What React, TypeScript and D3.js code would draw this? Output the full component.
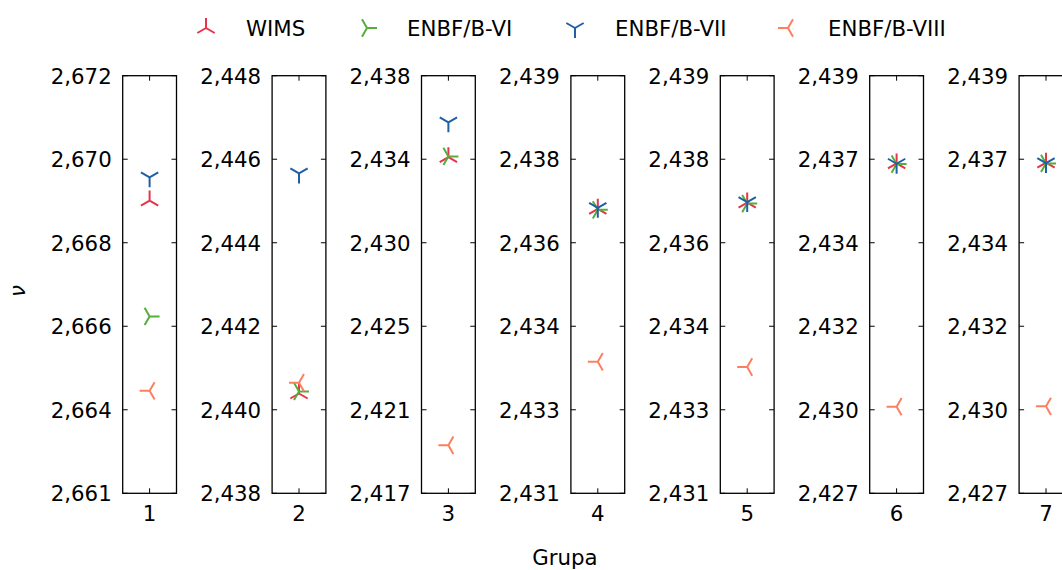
import React from "react";
import * as d3 from "d3";

const groups = [1, 2, 3, 4, 5, 6, 7];
const yMin = [2.6614, 2.438, 2.41705, 2.4312, 2.4312, 2.4272, 2.4272];
const yMax = [2.672, 2.448, 2.438, 2.4392, 2.4392, 2.4392, 2.4392];
const tickLabels = [
  ["2,661", "2,664", "2,666", "2,668", "2,670", "2,672"],
  ["2,438", "2,440", "2,442", "2,444", "2,446", "2,448"],
  ["2,417", "2,421", "2,425", "2,430", "2,434", "2,438"],
  ["2,431", "2,433", "2,434", "2,436", "2,438", "2,439"],
  ["2,431", "2,433", "2,434", "2,436", "2,438", "2,439"],
  ["2,427", "2,430", "2,432", "2,434", "2,437", "2,439"],
  ["2,427", "2,430", "2,432", "2,434", "2,437", "2,439"],
];
const wims = [2.66883, 2.44039, 2.43391, 2.43665, 2.43677, 2.43668, 2.4367];
const enbfVI = [2.66589, 2.44044, 2.43395, 2.43663, 2.43675, 2.43666, 2.43668];
const enbfVII = [2.66942, 2.44566, 2.43566, 2.43667, 2.43678, 2.43667, 2.43669];
const enbfVIII = [2.664, 2.44065, 2.41946, 2.43372, 2.43362, 2.42969, 2.4297];

const seriesNames = ["WIMS", "ENBF/B-VI", "ENBF/B-VII", "ENBF/B-VIII"];
const seriesColors = ["#e8334a", "#56ad3c", "#1f5fa6", "#fb8060"];
const seriesMarkers = ["triUp", "triRight", "triDown", "triLeft"];
const seriesData = [wims, enbfVI, enbfVII, enbfVIII];

const W = 1062;
const H = 570;
const panelLeft0 = 122.7;
const panelStep = 149.4;
const panelW = 53.8;
const top = 75.7;
const bottom = 493.3;
const FONT = "'DejaVu Sans', sans-serif";
const FS = 21.3;

function markerPath(kind: string, r: number): string {
  const c = 0.8660254 * r;
  const h = 0.5 * r;
  switch (kind) {
    case "triUp":
      return `M0,0L0,${-r}M0,0L${c},${h}M0,0L${-c},${h}`;
    case "triDown":
      return `M0,0L0,${r}M0,0L${c},${-h}M0,0L${-c},${-h}`;
    case "triLeft":
      return `M0,0L${-r},0M0,0L${h},${c}M0,0L${h},${-c}`;
    default:
      return `M0,0L${r},0M0,0L${-h},${c}M0,0L${-h},${-c}`;
  }
}

export default function App() {
  const legendX = [206, 367, 575, 788];
  const legendY = 28;
  return (
    <svg
      width={W}
      height={H}
      style={{ position: "absolute", left: 0, top: 0, background: "#fff" }}
      fontFamily={FONT}
    >
      <rect width={W} height={H} fill="#fff" />
      {seriesNames.map((name, i) => (
        <g key={name}>
          <path
            d={markerPath(seriesMarkers[i], 10)}
            transform={`translate(${legendX[i]},${legendY})`}
            stroke={seriesColors[i]}
            strokeWidth={2}
            fill="none"
          />
          <text x={legendX[i] + 40} y={legendY + 8} fontSize={FS} fill="#000">
            {name}
          </text>
        </g>
      ))}
      {groups.map((g, pi) => {
        const left = panelLeft0 + pi * panelStep;
        const x = d3.scaleLinear().domain([g - 0.5, g + 0.5]).range([left, left + panelW]);
        const y = d3.scaleLinear().domain([yMin[pi], yMax[pi]]).range([bottom, top]);
        const ticks = d3.range(6).map((k) => yMin[pi] + (k * (yMax[pi] - yMin[pi])) / 5);
        return (
          <g key={g}>
            {ticks.map((t, k) => (
              <g key={k}>
                <line x1={left} x2={left + 5} y1={y(t)} y2={y(t)} stroke="#000" strokeWidth={1} />
                <line x1={left + panelW - 5} x2={left + panelW} y1={y(t)} y2={y(t)} stroke="#000" strokeWidth={1} />
                <text x={left - 11} y={y(t) + 8} textAnchor="end" fontSize={FS} fill="#000">
                  {tickLabels[pi][k]}
                </text>
              </g>
            ))}
            <line x1={x(g)} x2={x(g)} y1={top} y2={top + 5} stroke="#000" strokeWidth={1} />
            <line x1={x(g)} x2={x(g)} y1={bottom} y2={bottom - 5} stroke="#000" strokeWidth={1} />
            <text x={x(g)} y={521} textAnchor="middle" fontSize={FS} fill="#000">
              {g}
            </text>
            {seriesData.map((s, si) => (
              <path
                key={si}
                d={markerPath(seriesMarkers[si], 10)}
                transform={`translate(${x(g)},${y(s[pi])})`}
                stroke={seriesColors[si]}
                strokeWidth={2}
                fill="none"
              />
            ))}
            <rect
              x={left}
              y={top}
              width={panelW}
              height={bottom - top}
              fill="none"
              stroke="#000"
              strokeWidth={1.3}
            />
          </g>
        );
      })}
      <text x={565} y={565} textAnchor="middle" fontSize={FS} fill="#000">
        Grupa
      </text>
      <text
        transform="translate(25,291) rotate(-90)"
        textAnchor="middle"
        fontSize={FS}
        fontStyle="italic"
        fill="#000"
      >
        ν
      </text>
    </svg>
  );
}
